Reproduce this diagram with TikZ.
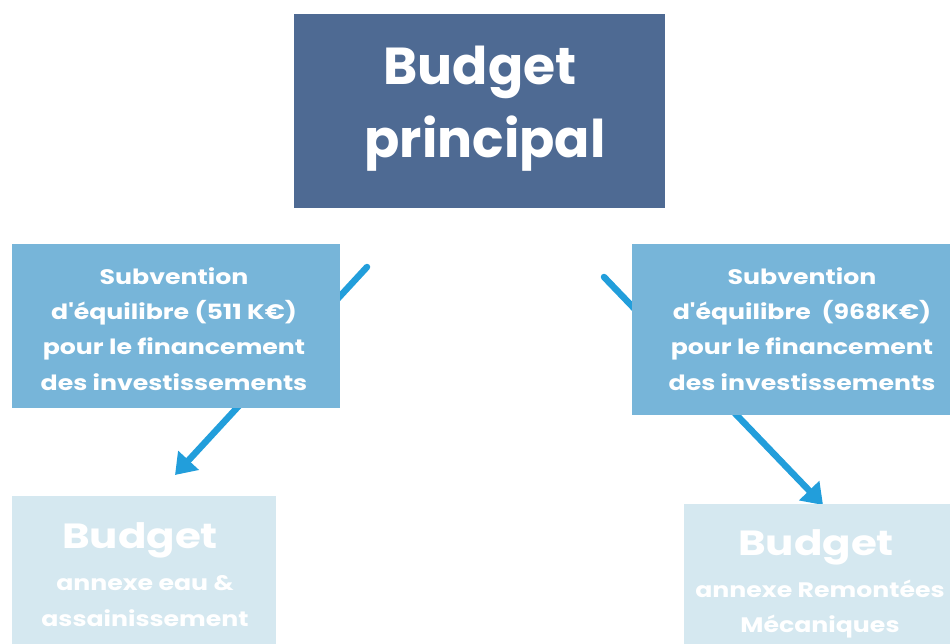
\documentclass[tikz,border=0pt]{standalone}
\usepackage{fontspec}
\setmainfont{Poppins}[BoldFont={* Bold}, Ligatures=TeXOff]
\newfontfamily\widefont{Poppins Bold}[FakeStretch=1.2, Ligatures=TeXOff]
\usetikzlibrary{arrows.meta}
\definecolor{dark}{HTML}{4E6A93}
\definecolor{mid}{HTML}{77B5D9}
\definecolor{light}{HTML}{D5E8F0}
\definecolor{arr}{HTML}{229EDB}
\tikzset{
  box/.style={inner sep=0pt, outer sep=0pt, text=white, align=center},
  small/.style={font=\fontsize{21}{35.3}\widefont},
  big/.style={font=\fontsize{52}{73}\selectfont\bfseries},
  conn/.style={draw=arr, line width=6.5pt, line cap=round, -{Triangle[length=20pt,width=27pt]}},
}
\begin{document}
\begin{tikzpicture}[x=1pt,y=-1pt]
\useasboundingbox (0,0) rectangle (950,644);
% arrows (behind boxes)
\coordinate (la) at (367,267);
\coordinate (lb) at (175,475);
\coordinate (ra) at (604,277);
\coordinate (rb) at (823,505);
\draw[conn] (la) -- (lb);
\draw[conn] (ra) -- (rb);
% main box
\fill[dark] (294,14) rectangle (665,208);
\node[box, big, anchor=base] (main) at (480,85) {Budget};
\node[box, big, anchor=base] (main2) at (485,158) {principal};
% middle boxes
\fill[mid] (12,244) rectangle (340,408);
\node[box, small] (sl) at (174,329) {Subvention\\d'équilibre (511 K€)\\pour le financement\\des investissements};
\fill[mid] (632,244) rectangle (950,415);
\node[box, small] (sr) at (802,329) {Subvention\\d'équilibre\ \ (968K€)\\pour le financement\\des investissements};
% bottom boxes
\fill[light] (12,496) rectangle (276,644);
\node[box, font=\fontsize{35}{40}\widefont] (bl) at (140,540) {Budget};
\node[box, small] (bl2) at (145,601) {annexe eau \&\\assainissement};
\fill[light] (684,504) rectangle (950,644);
\node[box, font=\fontsize{35}{40}\widefont] (br) at (816,547) {Budget};
\node[box, small] (br2) at (820,609) {annexe Remontées\\Mécaniques};
\end{tikzpicture}
\end{document}
